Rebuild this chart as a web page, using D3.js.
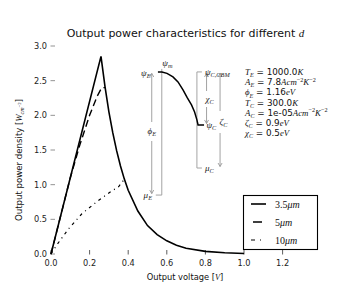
<!DOCTYPE html>
<html><head><meta charset="utf-8">
<script src="https://cdn.jsdelivr.net/npm/d3@7"></script>
<style>html,body{margin:0;padding:0;background:#fff;}</style>
</head><body>
<svg id="c" width="338" height="300"></svg>
<script>
// ---------- data ----------
const vThin = [0, 0.259];                      // 3.5 um, rising branch
const pThin = [0, 2.85];
const vDecay = [0.259, 0.28, 0.30, 0.32, 0.34, 0.36, 0.38, 0.40, 0.45, 0.50, 0.55, 0.60, 0.65, 0.70, 0.80, 0.90, 1.00];
const pDecay = [2.85, 2.41, 2.05, 1.75, 1.49, 1.27, 1.08, 0.92, 0.62, 0.41, 0.28, 0.19, 0.125, 0.084, 0.038, 0.017, 0.008];
const vMid = [0, 0.05, 0.10, 0.15, 0.20, 0.24, 0.263, 0.28];   // 5 um
const pMid = [0, 0.55, 1.10, 1.58, 2.00, 2.28, 2.40, 2.40];
const vThick = [0, 0.03, 0.09, 0.16, 0.24, 0.31, 0.35, 0.375];  // 10 um
const pThick = [0, 0.13, 0.36, 0.58, 0.76, 0.90, 0.97, 1.06];
const xTicks = [0, 0.2, 0.4, 0.6, 0.8, 1.0, 1.2];
const yTicks = [0, 0.5, 1.0, 1.5, 2.0, 2.5, 3.0];
const legendLabels = [["3.5", "μm"], ["5", "μm"], ["10", "μm"]];
// energy diagram (in data units)
const motiveV = [0.554, 0.575, 0.601, 0.632, 0.658, 0.684, 0.705, 0.728, 0.744, 0.756, 0.762, 0.793];
const motiveP = [2.626, 2.626, 2.605, 2.554, 2.482, 2.367, 2.258, 2.150, 2.049, 1.934, 1.861, 1.861];
const levels = {psiE: 2.626, muE: 0.85, psiCBM: 2.626, psiC: 1.861, muC: 1.24};
const diagX = {phi: 0.522, emit: 0.574, coll: 0.756, chi: 0.806, zeta: 0.876};
const params = [
  [["T","E"], " = 1000.0", [["K"]]],
  [["A","E"], " = 7.8", [["Acm"],["−2","sup"],["K"],["−2","sup"]]],
  [["ϕ","E"], " = 1.16", [["eV"]]],
  [["T","C"], " = 300.0", [["K"]]],
  [["A","C"], " = 1e-05", [["Acm"],["−2","sup"],["K"],["−2","sup"]]],
  [["ζ","C"], " = 0.9", [["eV"]]],
  [["χ","C"], " = 0.5", [["eV"]]]
];

// ---------- setup ----------
const SANS = "DejaVu Sans", SERIF = "Liberation Serif";
const svg = d3.select("#c");
const x = d3.scaleLinear().domain([0, 1.4]).range([51, 321.2]);
const y = d3.scaleLinear().domain([0, 3]).range([254, 46]);

function rich(sel, px, py, parts, size, anchor, fill) {
  const t = sel.append("text").attr("x", px).attr("y", py)
    .attr("font-size", size).attr("text-anchor", anchor || "start").attr("fill", fill || "#000");
  let cur = 0;
  parts.forEach(p => {
    const off = (p.o || 0) * size;
    t.append("tspan").text(p.t)
      .attr("font-family", p.f === "s" ? SERIF : SANS)
      .attr("font-style", p.i ? "italic" : "normal")
      .attr("font-size", (p.z || 1) * size)
      .attr("dy", cur - off);
    cur = off;
  });
  return t;
}
const M = t => ({t, f: "s", i: true});
const Sb = t => ({t, f: "s", i: true, z: 0.7, o: -0.25});
const Sp = t => ({t, f: "s", i: false, z: 0.7, o: 0.4});
const N = t => ({t, f: "n"});
const R = t => ({t, f: "s", i: false});

// ---------- title & labels ----------
rich(svg, 185.5, 37, [N("Output power characteristics for different "), M("d")], 11, "middle", "#111");
rich(svg, 185, 280, [N("Output voltage ["), M("V"), N("]")], 8.3, "middle", "#111");
rich(svg.append("g").attr("transform", "translate(22,160) rotate(-90)"), 0, 0,
  [N("Output power density ["), M("W"), Sb("cm"), {t: "−2", f: "s", z: 0.55, o: 0.15}, N("]")], 8.6, "middle", "#111");

// ---------- ticks ----------
const tickCol = "#777";
yTicks.forEach(v => {
  svg.append("line").attr("x1", x(0) - 0.5).attr("x2", x(0) + 4).attr("y1", y(v)).attr("y2", y(v))
    .attr("stroke", tickCol).attr("stroke-width", 0.8);
  svg.append("text").attr("x", 47).attr("y", y(v) + 3).attr("text-anchor", "end")
    .attr("font-family", SANS).attr("font-size", 8.2).attr("fill", "#222").text(d3.format(".1f")(v));
});
xTicks.forEach(v => {
  svg.append("line").attr("x1", x(v)).attr("x2", x(v)).attr("y1", y(0) + 0.5).attr("y2", y(0) - 4)
    .attr("stroke", "#333").attr("stroke-width", 0.8);
  svg.append("text").attr("x", x(v)).attr("y", 266).attr("text-anchor", "middle")
    .attr("font-family", SANS).attr("font-size", 8.2).attr("fill", "#222").text(d3.format(".1f")(v));
});

// ---------- curves ----------
const line = d3.line().x(d => x(d[0])).y(d => y(d[1]));
const zip = (a, b) => a.map((v, i) => [v, b[i]]);
svg.append("path").attr("d", line(zip(vThin, pThin).concat(zip(vDecay, pDecay))))
  .attr("fill", "none").attr("stroke", "#000").attr("stroke-width", 1.6).attr("stroke-linejoin", "miter");
svg.append("path").attr("d", line(zip(vMid, pMid)))
  .attr("fill", "none").attr("stroke", "#000").attr("stroke-width", 1.4).attr("stroke-dasharray", "7,4");
svg.append("path").attr("d", line(zip(vThick, pThick)))
  .attr("fill", "none").attr("stroke", "#000").attr("stroke-width", 1.2).attr("stroke-dasharray", "3,4,1,4");

// ---------- energy diagram ----------
const g = svg.append("g");
const gray = "#999";
function seg(x1, y1, x2, y2, col, w) {
  g.append("line").attr("x1", x1).attr("y1", y1).attr("x2", x2).attr("y2", y2)
    .attr("stroke", col || gray).attr("stroke-width", w || 0.9);
}
function head(px, py, dir) { // dir -1 up, +1 down
  g.append("path").attr("d", `M${px - 2},${py - dir * 3.5}L${px},${py}L${px + 2},${py - dir * 3.5}`)
    .attr("fill", "none").attr("stroke", gray).attr("stroke-width", 0.9);
}
function arrow(xv, top, bot, gapTop, gapBot) {
  const px = x(xv), t = y(top) + 1.5, b = y(bot) - 1.5;
  seg(px, t, px, gapTop); seg(px, gapBot, px, b);
  head(px, t, -1); head(px, b, 1);
}
// emitter bracket
seg(x(diagX.emit), y(levels.psiE) - 3, x(diagX.emit), y(levels.muE));
seg(x(diagX.emit) - 6, y(levels.muE), x(diagX.emit), y(levels.muE));
// collector bracket
seg(x(diagX.coll), y(levels.psiCBM), x(diagX.coll), y(levels.muC));
seg(x(diagX.coll), y(levels.psiCBM), x(diagX.coll) + 5, y(levels.psiCBM));
seg(x(diagX.coll), y(levels.muC), x(diagX.coll) + 5, y(levels.muC));
// motive
g.append("path").attr("d", line(zip(motiveV, motiveP))).attr("fill", "none")
  .attr("stroke", "#000").attr("stroke-width", 1.5);
// arrows
arrow(diagX.phi, levels.psiE, levels.muE, 122, 141);
arrow(diagX.chi, levels.psiCBM, levels.psiC, 91, 107);
arrow(diagX.zeta, levels.psiCBM, levels.muC, 111, 133);
// labels
const lab = "#222";
rich(g, 150.5, 76, [M("ψ"), Sb("E")], 9, "end", lab);
rich(g, x(diagX.emit) + 0.5, 66, [M("ψ"), Sb("m")], 9, "start", lab);
rich(g, 152, 198, [M("μ"), Sb("E")], 9, "end", lab);
rich(g, x(diagX.phi), 134, [M("ϕ"), Sb("E")], 9, "middle", lab);
rich(g, 205, 75, [M("ψ"), Sb("C,CBM")], 9, "start", lab);
rich(g, 206.5, 128, [M("ψ"), Sb("C")], 9, "start", lab);
rich(g, 205, 171, [M("μ"), Sb("C")], 9, "start", lab);
rich(g, 205.5, 102, [M("χ"), Sb("C")], 9, "start", lab);
rich(g, 219.5, 125, [M("ζ"), Sb("C")], 9, "start", lab);

// ---------- parameter box ----------
params.forEach((p, i) => {
  const parts = [M(p[0][0]), Sb(p[0][1]), N(p[1])];
  p[2].forEach(u => parts.push(u[1] === "sup" ? Sp(u[0]) : M(u[0])));
  rich(svg, 245, 75 + i * 10.2, parts, 8.8, "start", "#111");
});

// ---------- legend ----------
const lg = svg.append("g");
lg.append("rect").attr("x", 243.5).attr("y", 195.5).attr("width", 74).attr("height", 54)
  .attr("fill", "#fff").attr("stroke", "#000").attr("stroke-width", 1.1);
const dashes = [null, "0,2,9,20", "4,5,1,20"];
const widths = [1.6, 1.4, 1.2];
legendLabels.forEach((l, i) => {
  const ly = 204 + i * 18;
  lg.append("line").attr("x1", 251).attr("x2", 266).attr("y1", ly).attr("y2", ly)
    .attr("stroke", "#000").attr("stroke-width", widths[i]).attr("stroke-dasharray", dashes[i]);
  rich(lg, 275, ly + 3.5, [R(l[0]), M(l[1])], 10, "start", "#111");
});
</script>
</body></html>
